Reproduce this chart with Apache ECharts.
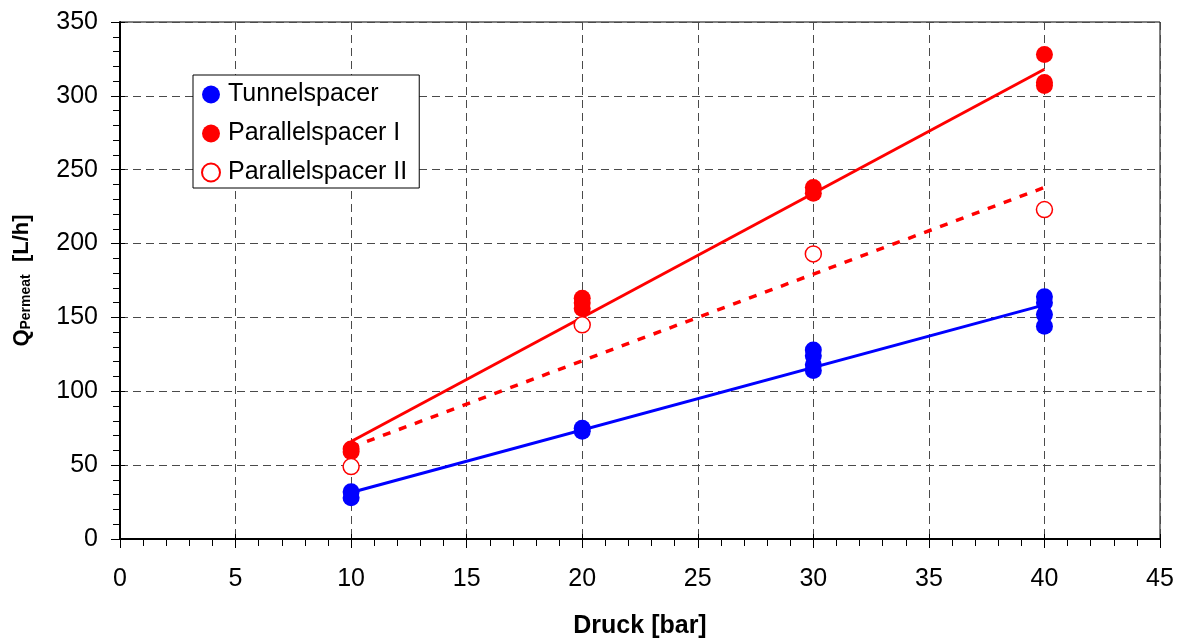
<!DOCTYPE html>
<html><head><meta charset="utf-8">
<script src="https://cdn.jsdelivr.net/npm/echarts@6/dist/echarts.min.js"></script>
<style>html,body{margin:0;padding:0;background:#fff}#c{width:1180px;height:644px}</style>
</head><body><div id="c"></div>
<script>
// Data
const tunnelX = [10, 10, 20, 20, 30, 30, 30, 30, 40, 40, 40, 40];
const tunnelY = [32, 28, 73, 75, 128, 124, 118, 114, 164, 160, 152, 144];
const par1X = [10, 10, 20, 20, 20, 30, 30, 40, 40, 40];
const par1Y = [61, 59, 163, 160, 156, 238, 234, 328, 309, 307];
const par2X = [10, 20, 30, 40];
const par2Y = [49, 145, 193, 223];
// Trend line endpoints
const trendTunnel = [[10, 31.5], [40, 158.5]];
const trendPar1 = [[10, 66], [40, 318]];
const trendPar2 = [[10, 62], [40, 238]];
const xTicks = [0, 5, 10, 15, 20, 25, 30, 35, 40, 45];
const yTicks = [0, 50, 100, 150, 200, 250, 300, 350];

const zip = (a, b) => a.map((v, i) => [v, b[i]]);
const font = 'Liberation Sans, Arial, sans-serif';
const chart = echarts.init(document.getElementById('c'));
const gridDash = {show: true, lineStyle: {color: '#4a4a4a', type: [8, 5], width: 1}};
chart.setOption({
  animation: false,
  grid: {left: 120, top: 22, width: 1040, height: 521, show: true, borderColor: '#000', borderWidth: 1},
  legend: {
    left: 193, top: 75, orient: 'vertical', itemGap: 14, padding: [7, 12, 3, 8],
    borderColor: '#000', borderWidth: 1, backgroundColor: '#fff',
    itemWidth: 18, itemHeight: 18,
    textStyle: {fontFamily: font, fontSize: 25, color: '#000', padding: [0, 0, 0, 3]},
    data: ['Tunnelspacer', 'Parallelspacer I', 'Parallelspacer II']
  },
  xAxis: [{
    type: 'value', min: xTicks[0], max: xTicks[xTicks.length - 1], interval: 5,
    name: 'Druck [bar]', nameLocation: 'middle', nameGap: 75,
    nameTextStyle: {fontFamily: font, fontSize: 25, fontWeight: 'bold', color: '#000'},
    axisLine: {lineStyle: {color: '#000', width: 2}},
    axisTick: {length: 9, lineStyle: {color: '#000', width: 1}},
    minorTick: {show: true, splitNumber: 5, length: 7, lineStyle: {color: '#000', width: 1}},
    axisLabel: {fontFamily: font, fontSize: 25, color: '#000', margin: 28},
    splitLine: gridDash
  }, {
    type: 'value', min: 0, max: 45, interval: 5, position: 'bottom',
    axisLine: {show: false}, axisLabel: {show: false}, splitLine: {show: false},
    axisTick: {inside: true, length: 5, lineStyle: {color: '#000', width: 1}}
  }],
  yAxis: [{
    type: 'value', min: yTicks[0], max: yTicks[yTicks.length - 1], interval: 50,
    name: '{a|Q}{b|Permeat}{a|  [L/h]}', nameLocation: 'middle', nameGap: 87, nameRotate: 90,
    nameTextStyle: {rich: {
      a: {fontFamily: font, fontSize: 22, fontWeight: 'bold', color: '#000'},
      b: {fontFamily: font, fontSize: 14, fontWeight: 'bold', color: '#000', verticalAlign: 'bottom', padding: [8, 0, 0, 0]}
    }},
    axisLine: {show: true, lineStyle: {color: '#000', width: 2}},
    axisTick: {show: true, length: 9, lineStyle: {color: '#000', width: 1}},
    minorTick: {show: true, splitNumber: 5, length: 7, lineStyle: {color: '#000', width: 1}},
    axisLabel: {fontFamily: font, fontSize: 25, color: '#000', margin: 22},
    splitLine: gridDash
  }, {
    type: 'value', min: 0, max: 350, interval: 50, position: 'left',
    axisLine: {show: false}, axisLabel: {show: false}, splitLine: {show: false},
    axisTick: {show: true, inside: true, length: 5, lineStyle: {color: '#000', width: 1}}
  }],
  series: [
    {type: 'line', data: trendTunnel, symbol: 'none', lineStyle: {color: '#0000ff', width: 3}, silent: true, z: 2},
    {type: 'line', data: trendPar1, symbol: 'none', lineStyle: {color: '#ff0000', width: 3}, silent: true, z: 2},
    {type: 'line', data: trendPar2, symbol: 'none', lineStyle: {color: '#ff0000', width: 3.5, type: [8, 9]}, silent: true, z: 2},
    {name: 'Tunnelspacer', type: 'scatter', data: zip(tunnelX, tunnelY), symbol: 'circle', symbolSize: 17,
     itemStyle: {color: '#0000ff', opacity: 1}, z: 3},
    {name: 'Parallelspacer I', type: 'scatter', data: zip(par1X, par1Y), symbol: 'circle', symbolSize: 17,
     itemStyle: {color: '#ff0000', opacity: 1}, z: 3},
    {name: 'Parallelspacer II', type: 'scatter', data: zip(par2X, par2Y), symbol: 'circle', symbolSize: 16,
     itemStyle: {color: '#fff', borderColor: '#ff0000', borderWidth: 1.5, opacity: 1}, z: 3}
  ]
});
</script></body></html>
